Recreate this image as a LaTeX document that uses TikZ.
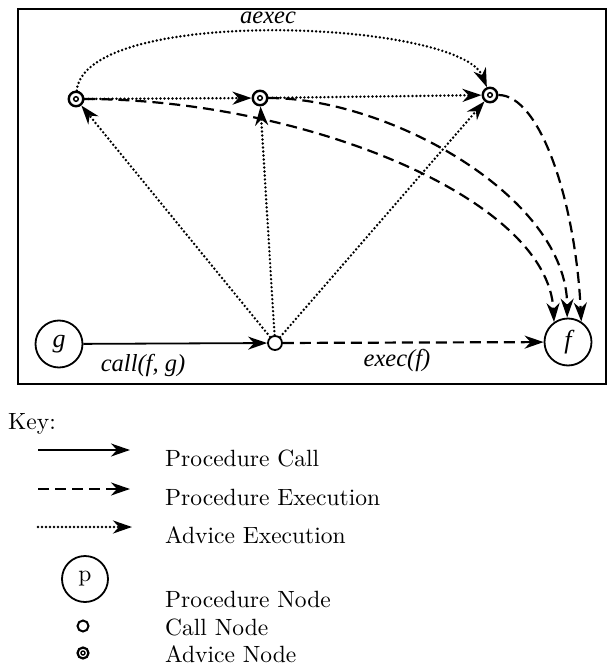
\documentclass[tikz,border=0pt]{standalone}
\usepackage{fontspec}
\newfontfamily\tms{Liberation Serif}
\newfontfamily\keyfont{lmroman10-regular.otf}
\usetikzlibrary{arrows.meta}
\begin{document}
\begin{tikzpicture}[x=1pt,y=-1pt,
  tipshape/.style={-{Stealth[length=19pt,width=13pt,inset=6pt]}},
  callarrow/.style={draw,line width=1.8pt,tipshape},
  execarrow/.style={draw,line width=2.2pt,dash pattern=on 11pt off 6pt,tipshape},
  advarrow/.style={draw,line width=2.7pt,line cap=round,dash pattern=on 0pt off 4pt,tipshape},
  procnode/.style={circle,draw,line width=1.8pt,minimum size=47pt,inner sep=0pt,
    font=\tms\itshape\fontsize{26}{30}\selectfont},
  callnode/.style={circle,draw,line width=1.8pt,minimum size=14pt,inner sep=0pt,fill=white},
  advnode/.style={circle,draw,line width=2.4pt,minimum size=14.5pt,inner sep=0pt,fill=white,
    path picture={\draw[line width=1.5pt] (path picture bounding box.center) circle (2.3pt);}},
  lbl/.style={inner sep=0pt,font=\tms\itshape\fontsize{24.5}{29}\selectfont},
  keytxt/.style={anchor=base west,inner sep=0pt,font=\keyfont\fontsize{23.5}{28}\selectfont}]
\useasboundingbox (0,0) rectangle (608,668);

% frame
\draw[line width=1.8pt] (18,9) rectangle (606,384);

% nodes
\node[procnode] (g) at (59,344) {g};
\node[procnode] (f) at (568,342) {f};
\node[callnode] (c) at (275,343) {};
\node[advnode] (a1) at (76,99) {};
\node[advnode] (a2) at (260,98) {};
\node[advnode] (a3) at (490,95) {};

% advice execution
\draw[advarrow] (c) -- (a1);
\draw[advarrow] (c) -- (a2);
\draw[advarrow] (c) -- (a3);
\draw[advarrow] (a1) -- (a2);
\draw[advarrow] (a2) -- (a3);
\draw[advarrow] (a1) .. controls +(9,-94) and +(-30,-75) .. (a3);

% procedure execution
\draw[execarrow] (a1) .. controls +(224,0) and +(-6,-125) .. (f.125);
\draw[execarrow] (a2) .. controls +(130,0) and +(0,-120) .. (f.92);
\draw[execarrow] (a3) .. controls +(50,0) and +(-6,-121) .. (f.57);
\draw[execarrow] (c) -- (f);

% procedure call
\draw[callarrow] (g) -- (c);

% labels
\node[lbl] (laexec) at (268,18) {aexec};
\node[lbl] (lcall) at (143,365) {call(f, g)};
\node[lbl] (lexec) at (397,360) {exec(f)};

% key
\node[keytxt] (key) at (8,429) {Key:};
\coordinate (k1a) at (38,450); \coordinate (k1b) at (130,450);
\coordinate (k2a) at (38,489); \coordinate (k2b) at (130,489);
\coordinate (k3a) at (38,527); \coordinate (k3b) at (132,527);
\draw[callarrow] (k1a) -- (k1b);
\draw[execarrow] (k2a) -- (k2b);
\draw[advarrow] (k3a) -- (k3b);
\node[keytxt] (t1) at (165,466) {Procedure Call};
\node[keytxt] (t2) at (165,505) {Procedure Execution};
\node[keytxt] (t3) at (165,543) {Advice Execution};
\node[circle,draw,line width=1.8pt,minimum size=46pt,inner sep=0pt,
  font=\keyfont\fontsize{23.5}{28}\selectfont] (pk) at (85,579) {p};
\node[callnode,minimum size=11pt,line width=2pt] (ck) at (83,626) {};
\node[advnode,minimum size=11pt,line width=2.2pt,
  path picture={\draw[line width=1.4pt] (path picture bounding box.center) circle (2pt);}] (ak) at (83,653) {};
\node[keytxt] (t4) at (165,607) {Procedure Node};
\node[keytxt] (t5) at (165,635) {Call Node};
\node[keytxt] (t6) at (165,662) {Advice Node};
\end{tikzpicture}
\end{document}
